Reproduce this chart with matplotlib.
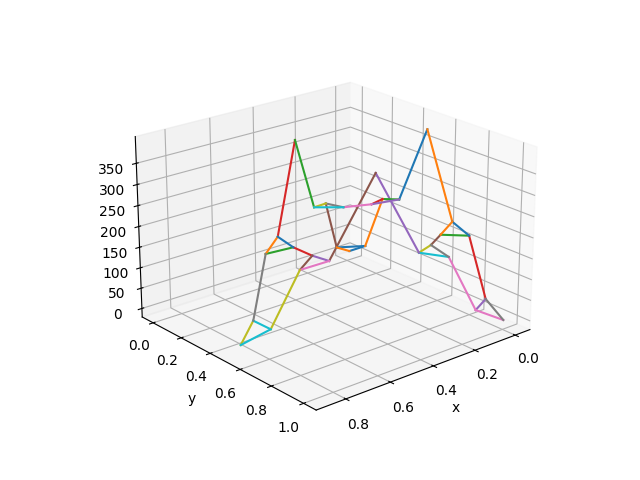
import matplotlib
matplotlib.use('Agg')
import matplotlib.pyplot as plt

xs = [0.006, 0.02, 0.01, 0.064, 0.114, 0.034, 0.268, 0.316, 0.347, 0.428,
      0.512, 0.479, 0.702, 0.736, 0.774, 0.86, 0.781, 0.698, 0.616, 0.663,
      0.716, 0.358, 0.245, 0.115, 0.026, 0.08, 0.052, 0.321, 0.274, 0.39]
ys = [1.011, 0.862, 0.908, 0.863, 0.821, 0.561, 0.69, 0.65, 0.623, 0.555,
      0.484, 0.316, 0.52, 0.49, 0.458, 0.501, 0.583, 0.654, 0.723, 0.683,
      0.639, 0.417, 0.513, 0.623, 0.698, 0.653, 0.677, 0.449, 0.488, 0.39]
zs = [5.0, 5.0, 38.8, 193.2, 227.6, 396.8, 283.3, 285.4, 273.6, 268.3,
      270.0, 398.0, 236.5, 196.9, 39.8, 5.0, 43.5, 180.8, 199.8, 213.1,
      233.7, 139.1, 315.9, 121.0, 108.5, 139.1, 163.6, 129.7, 140.9, 246.1]

# which points each segment joins, the order sets the colour
edges = [(6, 5), (5, 4), (3, 26), (3, 2), (2, 1), (26, 25), (0, 1), (2, 0), (25, 23), (24, 23),
         (4, 3), (4, 26), (13, 20), (11, 12), (22, 23), (22, 18), (1, 24), (25, 24), (14, 15), (14, 16),
         (21, 28), (12, 13), (7, 6), (20, 19), (19, 18), (17, 19), (17, 18), (13, 14), (16, 17), (15, 16),
         (27, 28), (28, 7), (11, 10), (8, 7), (8, 6), (29, 21), (9, 8), (29, 9), (10, 29), (10, 9),
         (12, 20), (21, 27)]

z_ticks = [0, 50, 100, 150, 200, 250, 300, 350]

fig = plt.figure(figsize=(6.4, 4.8))
ax = fig.add_subplot(projection='3d')

for a, b in edges:
    ax.plot([xs[a], xs[b]], [ys[a], ys[b]], [zs[a], zs[b]])

ax.view_init(21.49, 49.76)
ax.set_box_aspect((4.32, 4.29, 3), zoom=1.159)
ax.set_position([0.1276, 0.1169, 0.775, 0.77])
ax.set_zticks(z_ticks)
ax.set_xlim(-0.075, 0.929)
ax.set_ylim(-0.08, 1.076)
ax.set_zlim(-21.161, 412.344)
ax.tick_params(pad=1)
ax.set_xlabel('x', labelpad=-1)
ax.set_ylabel('y', labelpad=-1)

plt.savefig('out.png')
